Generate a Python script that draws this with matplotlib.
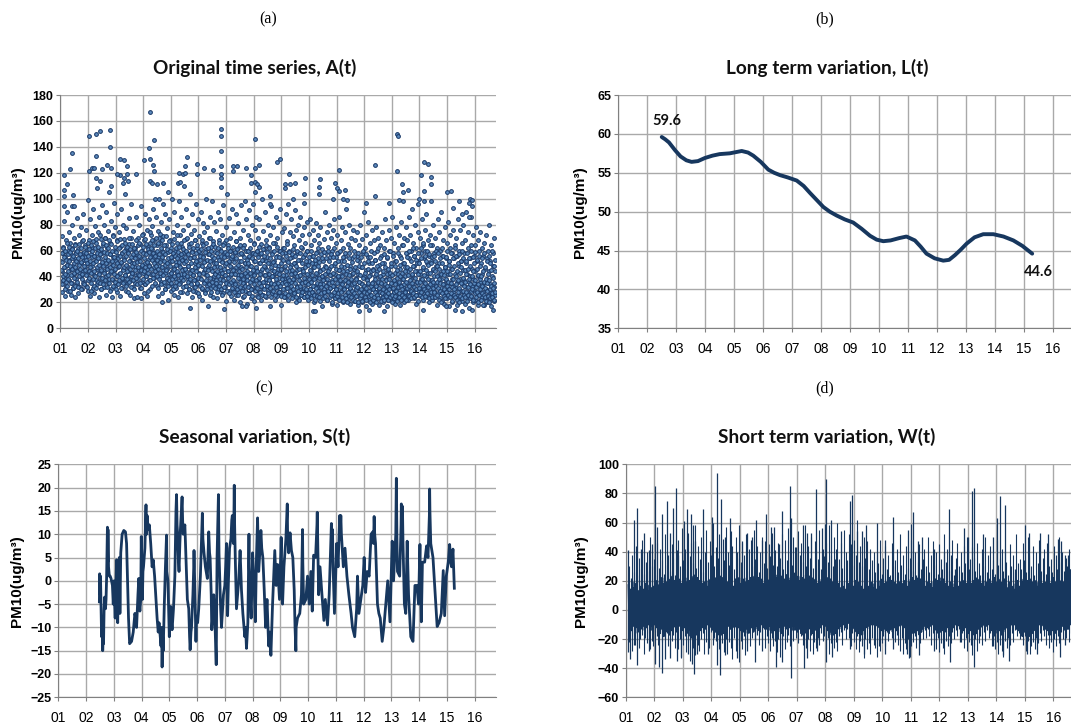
import numpy as np
import matplotlib
matplotlib.use("Agg")
import matplotlib.pyplot as plt

year_labels = ["01","02","03","04","05","06","07","08","09","10","11","12","13","14","15","16"]
years = list(range(1, 17))

# A(t): wide part of the cloud, read roughly along the time axis
a_values = [
52,36,71,44,28,58,63,39,83,47,25,55,68,33,90,49,41,60,29,74, 53,37,66,45,26,57,80,35,62,48,31,70,42,54,24,65,38,59,46,85, 34,61,51,27,72,43,56,32,78,40,50,67,30,58,44,88,36,53,64,47,
55,33,76,42,61,29,99,50,38,68,45,25,84,57,35,72,48,63,31,92, 41,56,27,79,52,66,37,108,46,34,60,74,43,24,86,54,39,69,49,30, 95,58,36,64,44,80,32,53,70,40,26,90,47,62,35,75,51,38,105,57,
43,66,30,83,49,24,72,55,37,97,45,60,33,78,52,40,68,28,88,47, 56,35,74,42,25,63,50,92,38,58,31,80,46,69,36,54,104,41,62,29, 77,48,34,59,44,85,39,65,26,52,70,37,96,50,43,61,32,75,55,23,
47,62,35,86,41,57,24,70,52,38,80,45,65,31,55,23,94,48,60,36, 73,43,27,68,50,88,34,58,40,76,46,25,63,53,37,84,49,66,30,56, 72,42,79,61,54,92,47,68,39,100,58,51,86,44,64,33,75,55,25,70,
48,66,40,82,53,36,60,27,96,45,71,34,57,43,88,30,50,64,38,77, 46,22,59,35,84,52,41,68,29,62,100,44,55,33,74,47,26,90,39,60, 51,31,80,43,66,24,56,37,98,49,72,35,54,42,86,28,63,46,76,58,
40,110,52,33,69,44,92,27,58,38,80,48,65,30,104,54,36,73,45,24, 60,88,41,55,32,76,50,37,68,28,96,47,62,34,84,53,25,71,43,58, 39,90,49,30,66,22,56,81,44,36,74,52,29,100,61,41,33,78,47,17,
57,35,70,26,86,46,63,31,53,98,39,67,24,50,82,43,59,33,75,37, 48,23,90,55,30,68,42,84,35,61,28,45,72,52,38,95,27,58,41,66, 49,32,78,21,56,36,104,44,64,29,51,85,40,70,25,47,60,34,92,54,
30,74,43,22,58,36,67,26,88,46,33,62,41,81,28,52,20,70,38,95, 47,31,57,24,76,42,64,35,98,29,50,84,39,19,60,44,72,27,55,91, 33,48,68,23,41,80,30,58,96,37,52,21,66,43,76,32,86,46,25,60,
38,70,28,50,84,35,57,22,65,44,100,31,53,75,26,41,61,36,90,47, 24,68,33,55,42,80,29,63,38,17,50,72,34,94,45,27,59,40,78,30, 52,66,22,43,86,36,56,25,70,32,48,82,39,60,28,92,45,18,54,74,
35,62,26,47,77,38,58,24,88,41,31,67,52,22,96,34,60,44,74,27, 49,36,84,30,55,42,71,25,64,38,91,28,50,20,76,45,33,58,80,23, 40,68,31,53,86,36,26,62,46,72,29,43,56,78,24,38,66,34,49,82,
27,60,41,22,73,35,52,30,84,44,25,64,38,56,76,28,47,20,68,33, 50,81,39,26,59,42,72,24,54,32,66,21,45,78,36,28,61,40,17,52, 34,69,25,48,90,38,58,29,74,43,22,63,35,80,46,27,55,31,70,41,
19,60,37,76,26,49,33,84,42,23,66,30,55,18,72,39,28,58,45,86, 35,24,68,41,52,29,78,36,20,62,47,31,74,25,56,38,92,27,44,65, 22,34,58,80,30,48,19,70,37,26,54,42,76,28,60,21,46,33,68,39,
25,56,74,31,42,18,64,36,52,27,80,23,47,35,69,20,58,29,40,90, 33,24,62,45,17,72,38,28,55,34,82,22,50,41,66,26,30,60,19,76, 36,46,24,68,32,53,21,40,78,28,44,60,25,70,35,18,49,30,64,39,
23,56,34,74,27,42,20,62,31,50,84,25,38,68,29,17,54,44,22,76, 33,60,26,40,70,24,48,31,86,36,21,58,28,66,43,19,52,35,78,25, 30,62,42,23,72,34,18,56,46,27,82,38,24,64,32,50,20,70,40,29,
47,78,26,58,35,68,22,44,86,30,54,24,72,38,60,28,92,41,33,66, 48,23,56,30,80,36,19,62,44,26,74,34,52,100,29,42,70,25,58,38, 84,31,64,46,22,54,36,76,27,60,40,88,33,50,24,68,43,20,56,30,
37,72,26,52,34,64,22,45,80,29,58,40,24,70,33,48,18,62,36,84, 27,50,42,74,23,60,31,90,38,21,56,44,28,68,34,19,78,47,26,54, 37,66,23,42,82,30,52,17,62,35,72,25,46,58,20,38,76,28,54,33,
64,24,42,70,31,18,56,36,84,26,48,60,22,38,76,29,52,34,66,21, 45,80,27,58,37,19,68,32,50,90,24,42,62,28,74,36,16,54,40,86, 25,60,33,46,72,20,38,56,29,64,22,44,78,34,52,26,68,18,40,60,
27,36,74,22,50,32,62,24,42,56,28,18,66,35,46,23,72,30,54,20, 38,60,26,44,80,22,34,52,28,17,64,40,25,48,58,21,70,32,26,44,
]
# A(t): the crowded core of the cloud, same reading direction
a_core = [
45,58,34,51,40,62,37,55,47,30,60,42,53,36,66,49,33,57,44,38,63,52,29,48,59,41,35,54,46,61,31,56,43,50,39,64,47,33,58,52,
36,60,44,54,32,49,65,40,57,46,30,62,51,38,55,42,68,35,59,48,34,63,45,53,41,58,32,50,66,37,56,44,61,39,52,47,29,64,43,55,
60,38,50,67,33,56,44,62,40,52,31,69,47,58,36,54,63,42,49,35,72,57,45,30,61,51,39,66,48,34,59,43,55,70,37,50,64,32,46,58,
41,62,53,35,68,47,29,57,44,65,38,52,60,33,49,71,42,55,36,63,46,30,59,50,40,67,34,54,48,62,37,56,43,69,31,51,58,39,64,45,
35,60,47,53,41,66,33,56,49,38,63,44,28,58,52,36,70,46,61,40,55,32,48,65,43,57,37,50,62,30,54,45,68,39,59,34,51,42,64,47,
56,41,66,35,52,60,45,31,72,49,58,38,63,44,54,34,69,47,57,40,65,36,51,61,43,29,59,48,74,37,55,46,62,33,53,68,42,58,39,50,
64,44,56,35,70,48,60,40,53,31,66,46,57,38,73,51,43,62,34,55,47,68,41,59,36,52,64,30,49,57,45,71,39,61,50,33,54,42,67,37,
48,60,35,55,43,65,38,52,30,58,46,69,40,56,33,62,49,36,54,44,72,41,59,34,51,63,47,28,57,39,66,45,53,37,61,32,50,42,68,55,
46,33,60,52,40,70,36,57,48,30,63,43,54,38,66,50,34,59,45,29,62,41,55,37,68,47,32,58,44,52,35,64,39,49,27,60,42,56,33,53,
61,38,48,68,31,55,43,64,35,51,27,59,46,37,66,41,53,30,62,45,34,57,49,70,39,52,28,60,44,36,56,33,65,47,40,54,31,63,42,50,
35,58,44,28,62,40,53,33,66,47,38,56,30,60,43,51,26,64,37,55,46,32,59,41,68,35,50,29,57,44,39,62,34,52,27,48,60,36,54,42,
56,31,45,63,37,51,28,59,42,34,67,47,54,30,61,39,49,26,57,44,36,64,32,52,41,58,29,46,35,62,38,55,25,50,43,33,60,47,37,53,
40,60,32,50,27,56,43,36,62,30,48,54,38,25,58,45,34,65,41,52,29,57,37,47,60,31,44,24,55,39,63,35,50,28,42,58,33,46,53,26,
61,36,48,30,56,41,25,64,38,52,33,45,59,27,50,37,62,42,31,54,24,47,35,57,40,66,29,51,44,34,60,26,49,38,55,32,43,63,28,46,
35,55,42,28,60,33,50,25,46,38,58,30,53,41,24,62,36,48,27,56,34,44,65,31,51,39,26,59,37,47,29,54,33,42,23,57,45,30,61,38,
50,27,43,35,56,24,48,32,60,40,29,53,37,22,46,58,33,41,26,63,35,50,28,44,55,31,39,24,57,36,47,30,52,25,42,60,34,49,27,38,
55,30,45,23,60,36,50,28,41,33,56,26,47,38,22,53,31,43,58,25,35,48,29,62,39,24,51,34,44,27,57,32,40,54,23,37,46,30,59,28,
42,25,54,33,47,22,38,60,29,44,35,52,24,41,31,57,26,48,36,20,55,33,43,28,62,38,23,50,30,46,25,58,35,40,27,52,22,45,32,37,
60,28,48,24,40,34,55,21,44,30,52,26,37,58,23,42,33,49,20,36,28,54,41,25,46,31,62,24,38,29,51,34,22,43,27,56,35,21,47,30,
38,25,53,32,44,20,58,28,36,48,23,41,30,55,26,34,47,21,39,60,28,33,50,24,43,31,57,22,37,27,46,35,52,25,40,29,20,55,33,44,
26,50,35,22,45,30,58,24,38,28,53,20,42,33,48,26,36,62,23,31,46,28,40,54,21,35,27,50,38,24,44,30,57,22,34,26,47,37,25,42,
33,55,27,46,22,38,30,60,24,43,35,50,26,20,41,31,56,23,37,28,48,25,34,52,29,39,21,45,32,58,24,36,27,49,40,22,33,54,26,43,
30,64,38,24,50,34,44,28,58,36,22,47,31,55,26,41,33,60,25,46,37,29,52,23,42,35,62,27,48,32,56,24,39,44,30,53,26,36,50,21,
42,58,31,50,26,44,36,62,28,54,38,24,47,33,66,30,41,56,25,35,52,29,45,60,27,38,49,32,57,23,43,34,64,28,50,37,55,24,46,31,
36,56,28,44,24,52,33,60,40,26,48,31,58,22,38,46,29,54,35,20,42,62,27,50,34,56,25,41,30,47,23,38,55,28,44,33,60,26,36,49,
30,52,24,42,35,58,27,46,32,21,54,38,26,48,30,62,24,40,34,56,22,44,28,50,37,20,57,31,43,25,52,35,47,23,60,29,39,54,26,33,
45,24,36,52,28,42,21,58,32,46,26,38,54,23,34,48,29,64,25,40,30,55,22,44,35,50,27,37,59,24,32,46,28,53,20,41,34,56,26,38,
30,48,22,40,27,54,33,18,44,36,26,58,31,24,47,38,21,52,29,35,42,25,56,20,37,30,50,23,45,33,27,60,24,39,31,22,48,35,28,53,
]
# A(t): isolated points above and below the cloud
a_out_x = [1.12,1.13,1.12,1.12,1.25,1.34,1.42,1.46,1.42,1.49,2.05,2.28,2.45,2.79,2.79,2.28,2.05,2.13,2.22,2.31,2.45,2.50,2.70,2.83,2.83,3.16,3.30,3.40,3.16,3.06,3.40,3.46,3.32,3.27,3.74,4.04,4.23,4.22,4.23,4.38,4.34,4.23,4.31,4.38,4.51,4.70,4.58,4.91,5.27,5.33,5.29,5.43,5.50,5.58,5.52,5.93,5.93,6.20,6.51,6.80,6.80,6.81,6.80,6.83,6.83,6.81,7.26,7.26,7.41,7.72,7.89,8.03,8.03,8.21,7.92,8.03,8.13,8.21,8.04,8.59,8.58,8.86,8.94,9.28,9.13,9.14,9.31,9.48,9.43,9.84,9.83,9.83,10.40,10.35,10.35,11.10,10.93,11.0,11.10,11.29,10.88,11.24,11.39,12.38,12.40,12.05,12.89,13.20,13.23,13.20,13.38,13.41,13.57,13.26,13.39,14.04,14.16,14.31,14.17,14.43,14.43,14.43,14.16,13.94,15.0,15.15,15.22,15.44,15.81,15.83,15.92,15.92,15.81,15.54,
           6.92,5.69,7.56,7.71,8.07,10.13,10.22,11.82,12.71,12.18,15.29,15.54,15.89,16.67,14.14,14.96,4.67]
a_out_y = [118,107,102,94,111,123,135,103,94,94,148,150,152,153,140,133,121,124,124,116,114,123,126,124,110,131,130,125,118,119,119,114,116,112,119,130,167,139,131,145,126,114,112,121,111,112,100,105,112,113,120,119,125,132,120,127,119,124,122,154,148,137,125,119,116,109,121,125,125,124,118,146,124,126,112,113,111,109,105,102,96,128,131,119,108,111,111,112,100,116,104,97,115,109,104,122,112,108,106,107,100,100,99,126,102,97,97,150,148,121,111,105,107,99,98,118,128,127,106,117,111,98,98,96,105,106,93,98,97,100,99,94,86,88,
           15,16,17,17,16,13,13,13,13,14,14,13,14,14,14,17,20]

# L(t)
l_x = [2.50,2.62,2.75,2.96,3.15,3.35,3.53,3.75,3.99,4.25,4.50,4.85,5.26,5.48,5.66,5.92,6.18,6.38,6.58,6.85,7.16,7.40,7.62,7.85,8.08,8.30,8.54,8.82,9.11,9.40,9.69,9.92,10.15,10.40,10.70,10.95,11.24,11.44,11.64,11.92,12.22,12.42,12.62,12.82,13.03,13.30,13.60,13.95,14.30,14.64,14.95,15.29]
l_y = [59.6,59.3,58.9,57.9,57.1,56.6,56.4,56.5,56.9,57.2,57.4,57.5,57.8,57.6,57.2,56.4,55.4,55.0,54.7,54.4,54.0,53.3,52.4,51.5,50.6,50.0,49.5,49.0,48.6,47.8,46.9,46.4,46.2,46.3,46.6,46.8,46.3,45.5,44.6,44.0,43.7,43.8,44.4,45.1,45.9,46.7,47.1,47.1,46.8,46.3,45.6,44.6]

# S(t), turning points as (year, value), small back and forth strokes included
s_points = [
(2.48,-4.5),(2.49,1.5),(2.51,-3),(2.52,1),(2.54,-5),(2.56,-12),(2.58,-10),(2.60,-15),(2.62,-12),(2.63,-13.5),(2.65,-6),(2.67,-3.5),(2.70,-6),(2.72,-4),(2.74,0.5),(2.77,11.5),(2.78,4),(2.79,11),(2.81,3),(2.84,1),(2.87,1),(2.90,0.5),(2.95,-1),(2.98,-5),
(3.01,0),(3.03,-5),(3.05,-8),(3.08,0),(3.10,4.5),(3.12,-6),(3.14,-9),(3.16,-2),(3.18,1),(3.20,5),(3.22,-7),(3.25,6),(3.30,10),(3.36,10.8),(3.42,10.5),(3.46,8),(3.50,-1),(3.53,-8),(3.57,-13.5),(3.64,-13),(3.70,-11),(3.76,-7),(3.79,-8),(3.82,-10),(3.87,-3),(3.90,0.5),(3.92,-5),(3.94,-6.5),(3.97,-4),(3.99,9.5),
(4.00,4),(4.03,-4),(4.05,2),(4.07,3),(4.12,7),(4.14,12),(4.16,16.3),(4.17,11),(4.18,10),(4.20,14),(4.24,11),(4.28,12),(4.33,8),(4.38,3),(4.42,4.5),(4.47,1),(4.50,-2),(4.56,-8),(4.60,-11),(4.63,-9),(4.66,-11),(4.70,-14),(4.72,-10),(4.74,-18.5),(4.76,-12),(4.78,-15),(4.82,-5),(4.86,3),(4.90,9.8),(4.91,2),(4.95,0),
(5.00,-12),(5.02,-7),(5.05,-5.5),(5.08,-9),(5.10,-10.5),(5.15,-6),(5.20,1),(5.24,15),(5.26,18.5),(5.28,12),(5.30,10),(5.33,4),(5.35,2),(5.38,8),(5.40,11),(5.44,16),(5.46,18),(5.48,13),(5.50,10),(5.56,12),(5.60,5),(5.65,-4),(5.70,-6),(5.73,-12),(5.75,-14.8),(5.78,-11),(5.80,-10),(5.85,-3),(5.88,3),(5.89,6.5),(5.92,-2),(5.96,-13),(5.98,-8),
(6.02,-9),(6.06,-6),(6.12,1),(6.17,11),(6.19,14.5),(6.21,9),(6.25,6),(6.30,3),(6.37,0.5),(6.40,7),(6.42,10.5),(6.45,6),(6.47,5),(6.51,-3),(6.53,-10.5),(6.56,-8),(6.60,-3),(6.64,-8),(6.67,-14),(6.69,-18),(6.71,-2),(6.72,5),(6.75,13),(6.77,18.5),(6.79,6),(6.82,0),(6.85,-6),(6.88,-10),(6.95,-3),
(7.00,-1),(7.03,3),(7.06,8),(7.08,0),(7.10,-7.5),(7.13,0),(7.17,7),(7.22,9),(7.25,13),(7.27,14),(7.31,8),(7.33,15),(7.34,20.5),(7.35,13),(7.36,10),(7.38,4),(7.42,-6),(7.50,0),(7.55,6.5),(7.60,-2),(7.65,-7),(7.72,-12),(7.75,-10),(7.78,-14.5),(7.83,-9),(7.87,10),(7.88,3),(7.91,-3),(7.95,-8),
(8.00,6),(8.05,0),(8.10,-8.8),(8.14,5),(8.16,9),(8.18,13.5),(8.20,8),(8.22,2),(8.27,7),(8.30,10.8),(8.33,7),(8.37,5),(8.42,-2),(8.47,-10),(8.52,-4),(8.58,-14),(8.62,-11),(8.66,-16),(8.72,-5),(8.76,1),(8.80,6.5),(8.85,-1),(8.90,3.5),(8.97,-4),
(9.03,9.3),(9.05,2),(9.08,-5),(9.13,3),(9.20,9),(9.25,16.5),(9.26,11),(9.30,6),(9.35,10.3),(9.40,6.5),(9.45,5),(9.50,-2),(9.53,-10),(9.56,-15),(9.57,-10),(9.62,-8),(9.70,-7),(9.76,-3),(9.80,11),(9.81,4),(9.84,-5),(9.92,-4),(9.98,1),
(10.04,-5),(10.10,2),(10.15,-6.5),(10.20,5.5),(10.27,5),(10.32,12),(10.33,14.7),(10.35,8),(10.38,-3),(10.43,3),(10.50,-3),(10.57,-8.5),(10.62,-4),(10.70,-9.5),(10.76,-3),(10.84,12.3),(10.85,7),(10.88,11),(10.90,3),(10.95,-7),
(11.03,8),(11.08,3),(11.14,14),(11.15,9),(11.18,14),(11.20,10),(11.27,3),(11.33,7),(11.40,1),(11.47,-3),(11.55,-7),(11.60,-10),(11.68,-12),(11.75,-6),(11.78,1),(11.83,-7),(11.90,-4),(11.97,-1),
(12.02,5),(12.07,-2.5),(12.13,2),(12.20,1),(12.27,10),(12.33,10.5),(12.36,8),(12.38,13.8),(12.40,10),(12.43,8),(12.50,-5),(12.55,-7),(12.60,-8),(12.67,-13),(12.73,-10),(12.80,-5),(12.87,0),(12.95,-8.8),
(13.03,8.5),(13.08,0),(13.16,10),(13.18,22),(13.20,10),(13.22,2),(13.30,1),(13.35,12),(13.36,16.5),(13.38,8),(13.40,16),(13.42,8),(13.47,-5),(13.52,-7),(13.57,8.5),(13.62,-3),(13.70,-12),(13.78,-13),(13.85,-1),(13.92,-1),(13.98,-5),
(14.03,7.8),(14.05,0),(14.08,-8.8),(14.12,4),(14.20,4),(14.27,7.5),(14.32,5),(14.37,14),(14.38,19.7),(14.39,15),(14.42,8),(14.50,5),(14.58,-3),(14.65,-9.8),(14.72,-9),(14.80,-7),(14.87,2.2),(14.92,-7.5),(14.98,1),
(15.05,4),(15.10,7.8),(15.14,4),(15.17,3),(15.22,6.8),(15.27,-1.6),
]
s_x = [p[0] for p in s_points]
s_y = [p[1] for p in s_points]

# W(t): swings of the solid band
w_values = [
17,-12,14,-14,19,-11,15,-16,18,-12,13,-15,16,-13,20,-11,14,-14,18,-12,13,-10,17,-14,15,-11,16,-10,13,-12,
20,-14,17,-16,22,-13,18,-18,22,-15,19,-13,21,-17,18,-14,23,-12,20,-11,17,-13,19,-11,21,-10,18,-14,22,-12,
19,-16,22,-14,20,-18,23,-15,21,-17,24,-13,22,-16,20,-14,22,-12,18,-11,19,-13,16,-10,20,-12,21,-10,18,-14,
19,-15,22,-13,21,-17,23,-14,22,-16,20,-15,21,-12,19,-11,18,-13,20,-10,16,-12,21,-11,19,-12,22,-14,18,-13,
21,-15,19,-13,22,-16,20,-14,22,-12,23,-15,21,-13,20,-11,22,-14,19,-10,21,-12,18,-10,23,-13,20,-11,21,-14,
22,-16,20,-14,24,-13,22,-15,21,-12,23,-16,22,-11,21,-13,24,-10,20,-12,22,-11,22,-14,25,-11,21,-15,23,-13,
20,-16,22,-17,21,-14,24,-15,19,-13,23,-12,22,-16,21,-11,20,-14,18,-10,21,-12,19,-10,16,-13,20,-11,22,-14,
18,-15,21,-17,19,-14,16,-16,20,-12,18,-13,15,-11,19,-10,16,-12,14,-10,18,-9,15,-11,19,-12,16,-13,20,-15,
15,-16,19,-13,16,-17,14,-14,18,-12,20,-11,16,-13,19,-10,15,-10,18,-11,14,-9,20,-12,16,-14,21,-15,18,-13,
19,-14,21,-16,22,-13,20,-15,19,-12,18,-14,16,-10,19,-11,15,-10,18,-12,20,-9,16,-13,19,-14,21,-16,22,-15,
20,-16,22,-14,19,-17,21,-15,18,-13,20,-11,16,-12,19,-10,18,-11,15,-10,19,-13,21,-14,20,-16,22,-15,19,-14,
21,-13,18,-15,20,-12,16,-14,19,-11,15,-12,18,-10,14,-11,16,-10,19,-13,15,-14,20,-12,18,-15,21,-16,19,-14,
18,-17,20,-14,22,-16,19,-13,21,-12,18,-11,20,-10,16,-11,19,-10,21,-12,18,-14,20,-15,22,-13,19,-16,21,-14,
16,-17,19,-15,21,-13,18,-12,15,-11,19,-10,16,-11,14,-10,18,-13,20,-14,16,-16,21,-18,19,-15,22,-16,20,-14,
18,-18,21,-16,19,-14,20,-12,16,-11,19,-10,15,-11,18,-10,14,-13,19,-14,21,-15,18,-17,20,-14,22,-16,19,-13,
18,-14,20,-12,16,-11,19,-10,15,-11,18,-13,16,-10,14,
]
# W(t): shorter strokes that fringe the band, one set up and one set down
w_mid_hi = [
30,22,38,26,44,24,36,28,48,25,33,40,27,50,30,35,24,46,29,42,34,25,52,31,38,27,45,36,24,41,
48,30,56,34,42,28,53,37,46,32,58,29,44,35,50,26,40,55,33,47,38,60,30,43,36,52,28,49,34,57,
40,31,54,44,28,50,36,58,33,46,38,52,27,42,48,30,55,35,44,26,40,50,32,47,29,45,37,53,31,41,
30,46,36,52,28,48,34,56,40,31,50,43,27,54,38,46,33,58,30,44,36,50,29,47,41,35,55,28,42,37,
46,33,58,38,30,50,42,60,35,46,29,55,40,34,52,45,31,48,38,62,33,44,30,50,36,47,28,42,34,40,
26,40,32,48,25,36,44,28,38,24,46,30,34,42,26,52,31,38,25,44,29,36,48,27,40,24,33,45,28,35,
42,30,50,26,38,47,31,40,25,45,35,28,52,33,42,27,38,48,24,36,46,30,40,26,44,32,50,28,35,43,
36,27,46,32,24,42,30,50,26,38,44,28,34,25,48,31,36,42,27,40,33,24,45,30,38,26,52,32,35,28,
46,34,26,50,38,30,44,24,40,32,48,27,36,42,25,46,30,35,26,44,38,28,50,33,40,27,36,30,42,28,
]
w_mid_lo = [
-22,-16,-28,-18,-24,-15,-26,-20,-17,-30,-19,-23,-16,-27,-21,-25,-15,-18,-24,-14,-22,-13,-20,-16,-25,-14,-21,-17,-26,-15,
-27,-20,-33,-24,-18,-29,-22,-35,-19,-26,-31,-17,-24,-28,-20,-16,-30,-22,-18,-26,-15,-24,-19,-21,-14,-27,-17,-23,-29,-20,
-30,-22,-26,-34,-19,-28,-24,-36,-21,-27,-18,-31,-23,-16,-25,-19,-14,-22,-17,-24,-15,-20,-13,-26,-18,-23,-28,-19,-25,-21,
-29,-20,-32,-24,-18,-27,-22,-17,-25,-15,-21,-14,-19,-23,-13,-18,-24,-16,-26,-20,-28,-17,-30,-22,-26,-19,-24,-16,-21,-18,
-27,-19,-30,-23,-17,-26,-22,-28,-18,-15,-24,-14,-20,-13,-19,-25,-16,-22,-27,-18,-29,-21,-25,-33,-20,-27,-23,-30,-19,-24,
-26,-32,-20,-28,-23,-18,-25,-15,-21,-14,-19,-13,-22,-17,-24,-28,-19,-30,-23,-27,-20,-32,-25,-22,-18,-26,-16,-23,-15,-20,
-14,-19,-13,-18,-24,-16,-22,-27,-19,-29,-23,-26,-30,-21,-25,-18,-23,-15,-20,-14,-18,-13,-22,-16,-26,-19,-28,-22,-24,-31,
-25,-20,-28,-23,-18,-24,-15,-21,-14,-19,-16,-25,-18,-27,-22,-30,-24,-28,-32,-21,-26,-19,-24,-16,-22,-14,-18,-13,-20,-15,
-24,-18,-28,-21,-30,-25,-22,-27,-19,-23,-16,-21,-14,-18,-24,-17,-26,-22,-29,-20,-25,-18,-23,-15,-20,-14,-19,-13,-22,-16,
]
# W(t): the long spikes
w_peak_x = [1.09,1.30,1.41,1.53,1.65,1.83,1.92,2.03,2.11,2.26,2.44,2.56,2.67,2.77,2.85,3.05,3.15,3.29,3.37,3.43,3.70,4.02,4.19,4.33,4.49,4.67,4.89,5.07,5.25,5.42,5.57,5.77,5.92,6.09,6.19,6.37,6.50,6.77,6.81,6.96,7.23,7.37,7.50,7.69,7.89,7.98,8.03,8.19,8.34,8.54,8.86,8.94,9.13,9.28,9.43,9.83,10.10,10.37,10.91,11.0,11.09,11.27,11.39,11.80,12.18,12.34,12.56,12.88,13.02,13.16,13.21,13.55,13.90,14.04,14.13,14.30,14.66,14.99,15.13,15.54,15.80,16.16,16.26,16.42,16.53,16.59]
w_peak_y = [41,62,70,42,53,41,45,85,57,66,75,53,70,84,38,61,69,66,58,47,69,64,94,76,50,63,40,47,53,50,62,48,66,57,57,45,68,85,63,43,58,53,53,83,56,59,90,62,35,54,75,79,54,54,58,60,48,64,55,59,67,47,50,42,40,69,28,56,50,82,84,52,50,63,78,72,28,58,53,53,52,49,47,38,38,28]
w_low_x = [1.09,1.16,1.29,1.39,1.83,2.03,2.18,2.26,2.38,2.56,2.79,2.93,3.20,3.32,3.41,3.49,3.87,4.19,4.31,4.49,4.89,5.25,5.54,5.77,6.27,6.47,6.81,7.27,7.37,7.70,8.03,8.23,8.87,9.36,9.87,10.10,10.39,10.86,10.95,11.29,11.80,12.38,12.73,13.20,13.90,14.25,14.43,15.07,15.42,16.24,16.42]
w_low_y = [-29,-34,-24,-38,-28,-37,-39,-43,-34,-33,-35,-32,-30,-37,-44,-30,-30,-38,-45,-31,-33,-28,-36,-28,-39,-36,-47,-40,-33,-28,-36,-32,-27,-30,-25,-30,-27,-30,-33,-31,-28,-36,-22,-39,-25,-31,-35,-30,-30,-32,-24]

line_color = "#17375e"
grid_color = "#a9a9a9"
axis_color = "#808080"
dot_face = "#5c8cc0"
dot_edge = "#1c3a68"
W, H = 1071, 725

plt.rcParams["font.family"] = "Liberation Sans"
fig = plt.figure(figsize=(W / 100, H / 100), dpi=100)


def make_axes(left, right, top, bottom, xmax, ymin, ymax, ystep, title, title_x, tag, tag_x, label_x):
    ax = fig.add_axes([left / W, 1 - bottom / H, (right - left) / W, (bottom - top) / H])
    ax.set_xlim(1, xmax)
    ax.set_ylim(ymin, ymax)
    ax.set_xticks(years)
    ax.set_xticklabels(year_labels, fontsize=10)
    ax.set_yticks(range(ymin, ymax + 1, ystep))
    ax.tick_params(axis="y", labelsize=9, length=3, color=axis_color, pad=2)
    ax.tick_params(axis="x", length=3, color=axis_color, pad=7)
    for t in ax.get_yticklabels():
        t.set_fontweight("bold")
    ax.grid(True, color=grid_color, lw=1)
    ax.set_axisbelow(True)
    ax.spines["top"].set_visible(False)
    ax.spines["right"].set_visible(False)
    ax.spines["left"].set_color(axis_color)
    ax.spines["bottom"].set_color(axis_color)
    fig.text(title_x / W, 1 - (top - 27) / H, title, family="Lato", fontweight="bold",
             fontsize=13.7, ha="center", va="center", color="#111111")
    fig.text(tag_x / W, 1 - (top - 76) / H, tag, family="Liberation Serif", fontsize=11.5,
             ha="center", va="center")
    fig.text(label_x / W, 1 - (top + bottom) / 2 / H, "PM10(ug/m³)", rotation=90, fontsize=11,
             fontweight="bold", ha="center", va="center")
    return ax


ax_a = make_axes(60.3, 495.7, 95, 328.3, 16.76, 0, 180, 20, "Original time series, A(t)", 255, "(a)", 268, 18)
a_x = np.linspace(1.02, 16.74, len(a_values))
core_x = np.linspace(1.03, 16.74, len(a_core))
ax_a.plot(a_x, a_values, "o", ms=2.7, mfc=dot_face, mec=dot_edge, mew=0.75)
ax_a.plot(core_x, a_core, "o", ms=2.7, mfc=dot_face, mec=dot_edge, mew=0.75)
ax_a.plot(a_out_x, a_out_y, "o", ms=2.7, mfc=dot_face, mec=dot_edge, mew=0.75)

ax_b = make_axes(618.3, 1071, 95, 328.3, 16.63, 35, 65, 5, "Long term variation, L(t)", 827, "(b)", 825, 580)
ax_b.plot(l_x, l_y, color=line_color, lw=2.8, solid_capstyle="round", solid_joinstyle="round")
ax_b.text(2.68, 60.75, "59.6", family="Lato", fontweight="bold", fontsize=10.5, ha="center", va="bottom", color="#111111")
ax_b.text(15.5, 43.2, "44.6", family="Lato", fontweight="bold", fontsize=10.5, ha="center", va="top", color="#111111")

ax_c = make_axes(58.3, 495.7, 464.3, 697.3, 16.76, -25, 25, 5, "Seasonal variation, S(t)", 255, "(c)", 264, 17)
ax_c.plot(s_x, s_y, color=line_color, lw=2.0, solid_joinstyle="round")

ax_d = make_axes(625.7, 1071, 464.3, 697.3, 16.62, -60, 100, 20, "Short term variation, W(t)", 827, "(d)", 825, 581)
w_x = np.linspace(1.1, 16.62, len(w_values))
hi_x = np.linspace(1.12, 16.6, len(w_mid_hi))
lo_x = np.linspace(1.11, 16.61, len(w_mid_lo))
ax_d.plot(w_x, w_values, color=line_color, lw=1.4)
ax_d.vlines(hi_x, 0, w_mid_hi, color=line_color, lw=0.8)
ax_d.vlines(lo_x, 0, w_mid_lo, color=line_color, lw=0.8)
ax_d.vlines(w_peak_x, 0, w_peak_y, color=line_color, lw=0.9)
ax_d.vlines(w_low_x, 0, w_low_y, color=line_color, lw=0.9)

fig.savefig("out.png", dpi=100)
